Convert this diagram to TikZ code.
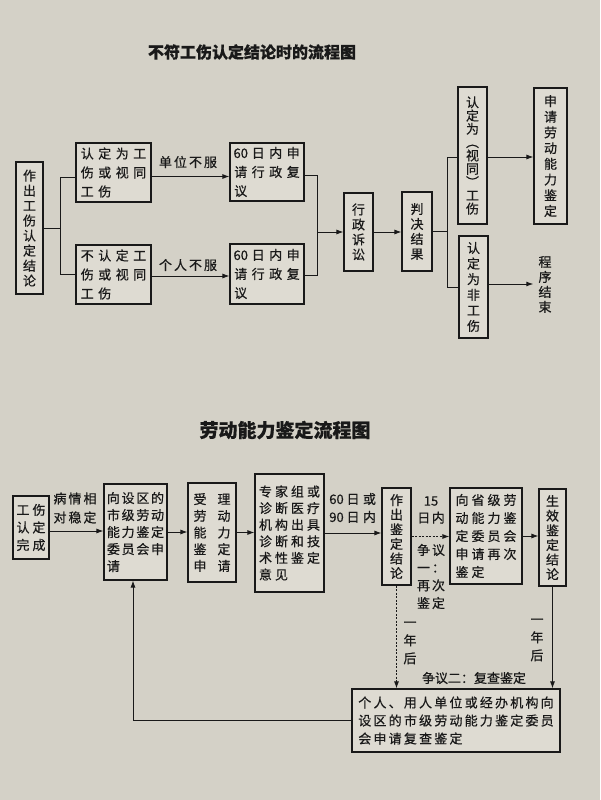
\documentclass[tikz,border=0pt]{standalone}
\usepackage{fontspec}
\setmainfont{Noto Sans CJK SC}[FakeBold=0.5]
\usetikzlibrary{arrows.meta}
\definecolor{paper}{RGB}{212,209,199}
\definecolor{boxfill}{RGB}{222,219,210}
\definecolor{ink}{RGB}{25,25,25}
\makeatletter
\newlength\cw
\newcommand\rowx[1]{\@tfor\ch:=#1\do{\hbox to\cw{\hss\ch\hss}}}
\newcommand\grid[3]{\vbox{\cw=#1\relax\baselineskip=#2\relax\lineskiplimit=-\maxdimen
  \@for\rr:=#3\do{\hbox{\expandafter\rowx\expandafter{\rr}}}}}
\newcommand\vcol[2]{\vbox{\cw=1em\relax\baselineskip=#1\relax\lineskiplimit=-\maxdimen
  \@tfor\ch:=#2\do{\hbox to\cw{\hss\ch\hss}}}}
\makeatother
\tikzset{
 box/.style={draw=ink, line width=1.1pt, fill=boxfill, inner sep=0pt, text=ink, font=\fontsize{13}{15}\selectfont},
 lbl/.style={inner sep=0pt, text=ink, font=\fontsize{13}{15}\selectfont},
 conn/.style={draw=ink, line width=0.9pt},
 arr/.style={conn, -{Latex[length=7pt,width=5pt]}},
 darr/.style={arr, dash pattern=on 2pt off 1.5pt},
 ttl/.style={inner sep=0pt, text=ink, font=\fontsize{16}{16}\selectfont\bfseries},
}
\begin{document}
\begin{tikzpicture}[x=1pt,y=-1pt]
\fill[paper] (0,0) rectangle (600,800);
\useasboundingbox (0,0) rectangle (600,800);
% ---------- top chart ----------
\node[ttl] (t1) at (252,52) {不符工伤认定结论时的流程图};
\node[box,minimum width=27pt,minimum height=132pt] (A) at (29.5,228) {\vcol{15pt}{作出工伤认定结论}};
\node[box,minimum width=75pt,minimum height=59pt] (B1) at (113.5,172.5) {\grid{17.5pt}{19pt}{认定为工,伤或视同,工伤}};
\node[box,minimum width=75pt,minimum height=59pt] (B2) at (113.5,274.5) {\grid{17.5pt}{19pt}{不认定工,伤或视同,工伤}};
\node[box,minimum width=74pt,minimum height=58pt] (C1) at (267,172) {\grid{17.5pt}{19pt}{{60}日内申,请行政复,议}};
\node[box,minimum width=74pt,minimum height=60pt] (C2) at (267,274) {\grid{17.5pt}{19pt}{{60}日内申,请行政复,议}};
\node[box,minimum width=29pt,minimum height=78pt] (D) at (358.5,232) {\vcol{15pt}{行政诉讼}};
\node[box,minimum width=30pt,minimum height=79pt] (E) at (417,231.5) {\vcol{15pt}{判决结果}};
\node[box,minimum width=29pt,minimum height=137pt] (F1) at (472.5,155.5) {\vcol{13.3pt}{认定为︵视同︶工伤}};
\node[box,minimum width=29pt,minimum height=102pt] (F2) at (473.5,287) {\vcol{15.6pt}{认定为非工伤}};
\node[box,minimum width=33pt,minimum height=136pt] (G) at (550.5,156) {\vcol{15.7pt}{申请劳动能力鉴定}};
\node[lbl] (H) at (545,284.5) {\vcol{15pt}{程序结束}};
\node[lbl] (l1) at (188,162) {\grid{15pt}{15pt}{单位不服}};
\node[lbl] (l2) at (188,265) {\grid{15pt}{15pt}{个人不服}};
% connectors
\coordinate (j1) at (60,228);
\draw[conn] (A.east) -- (j1);
\coordinate (b1w) at ([yshift=-4.5pt]B1.west);
\coordinate (b2w) at ([yshift=0.5pt]B2.west);
\draw[conn] (b1w) -| (j1);
\draw[conn] (b2w) -| (j1);
\coordinate (b1e) at ([yshift=-4pt]B1.east);
\coordinate (b2e) at ([yshift=-1.5pt]B2.east);
\draw[arr] (b1e) -- (b1e -| C1.west);
\draw[arr] (b2e) -- (b2e -| C2.west);
\coordinate (c1e) at ([yshift=-3pt]C1.east);
\coordinate (c2e) at ([yshift=-1pt]C2.east);
\coordinate (j2) at (317,232);
\draw[conn] (c1e) -| (j2);
\draw[conn] (c2e) -| (j2);
\draw[arr] (j2) -- (j2 -| D.west);
\draw[arr] (D.east) -- (D.east -| E.west);
\coordinate (j3) at (447,231.5);
\draw[conn] (E.east) -- (j3);
\coordinate (f1w) at ([yshift=-1.5pt]F1.west);
\draw[conn] (f1w) -| (j3);
\draw[conn] (F2.west) -| (j3);
\coordinate (f1e) at ([yshift=-1.5pt]F1.east);
\draw[arr] (f1e) -- (f1e -| G.west);
\coordinate (f2e) at ([yshift=3pt]F2.east);
\coordinate (hw) at ([xshift=-5pt]H.west);
\draw[arr] (f2e) -- (f2e -| hw);
% ---------- bottom chart ----------
\node[ttl, font=\fontsize{19}{19}\selectfont\bfseries] (t2) at (285,430) {劳动能力鉴定流程图};
\node[box,minimum width=36pt,minimum height=63pt] (P) at (31,527.5) {\grid{16pt}{17.5pt}{工伤,认定,完成}};
\node[lbl] (m1) at (75,508) {\grid{15pt}{19pt}{病情相,对稳定}};
\node[box,minimum width=63pt,minimum height=96pt] (Q) at (135.5,532) {\grid{14.7pt}{17pt}{向设区的,市级劳动,能力鉴定,委员会申,请}};
\node[box,minimum width=48pt,minimum height=99pt] (R) at (212,532.5) {\grid{24pt}{16.7pt}{受理,劳动,能力,鉴定,申请}};
\node[box,minimum width=69pt,minimum height=118pt] (S) at (289.5,533) {\grid{16pt}{16.6pt}{专家组或,诊断医疗,机构出具,诊断和技,术性鉴定,意见}};
\node[lbl] (m2) at (353,508) {\grid{16.5pt}{18pt}{{60}日或,{90}日内}};
\node[box,minimum width=29pt,minimum height=97pt] (T) at (396.5,536.5) {\vcol{14.6pt}{作出鉴定结论}};
\node[lbl, align=center, font=\fontsize{13}{17}\selectfont] (m3) at (431,510) {15\\日\hspace{1.5pt}内};
\node[lbl] (m4) at (431,576.5) {\grid{15pt}{17.7pt}{争议,一：,再次,鉴定}};
\node[box,minimum width=72pt,minimum height=96pt] (U) at (486,536) {\grid{16pt}{18pt}{向省级劳,动能力鉴,定委员会,申请再次,鉴定}};
\node[box,minimum width=27pt,minimum height=97pt] (V) at (552.5,537.5) {\vcol{14.6pt}{生效鉴定结论}};
\node[lbl] (m5) at (537,640) {\vcol{18pt}{一年后}};
\node[lbl] (m6) at (410,643) {\vcol{18pt}{一年后}};
\node[lbl] (m7) at (474,678) {争议二：复查鉴定};
\node[box,minimum width=208pt,minimum height=63pt] (W) at (456,720.5) {\grid{15.2pt}{18pt}{个人、用人单位或经办机构向,设区的市级劳动能力鉴定委员,会申请复查鉴定}};
% connectors
\coordinate (pe) at ([yshift=-3.5pt]P.east);
\draw[arr] (pe) -- (pe -| Q.west);
\draw[arr] (Q.east) -- (Q.east -| R.west);
\draw[arr] (R.east) -- (R.east -| S.west);
\draw[arr] (S.east) -- (S.east -| T.west);
\draw[darr] (T.east) -- (T.east -| U.west);
\draw[arr] (U.east) -- (U.east -| V.west);
\draw[arr] (V.south) -- (V.south |- W.north);
\draw[darr] (T.south) -- (T.south |- W.north);
\coordinate (qs) at ([xshift=-2.5pt]Q.south);
\draw[arr] (W.west) -| (qs);
\end{tikzpicture}
\end{document}
